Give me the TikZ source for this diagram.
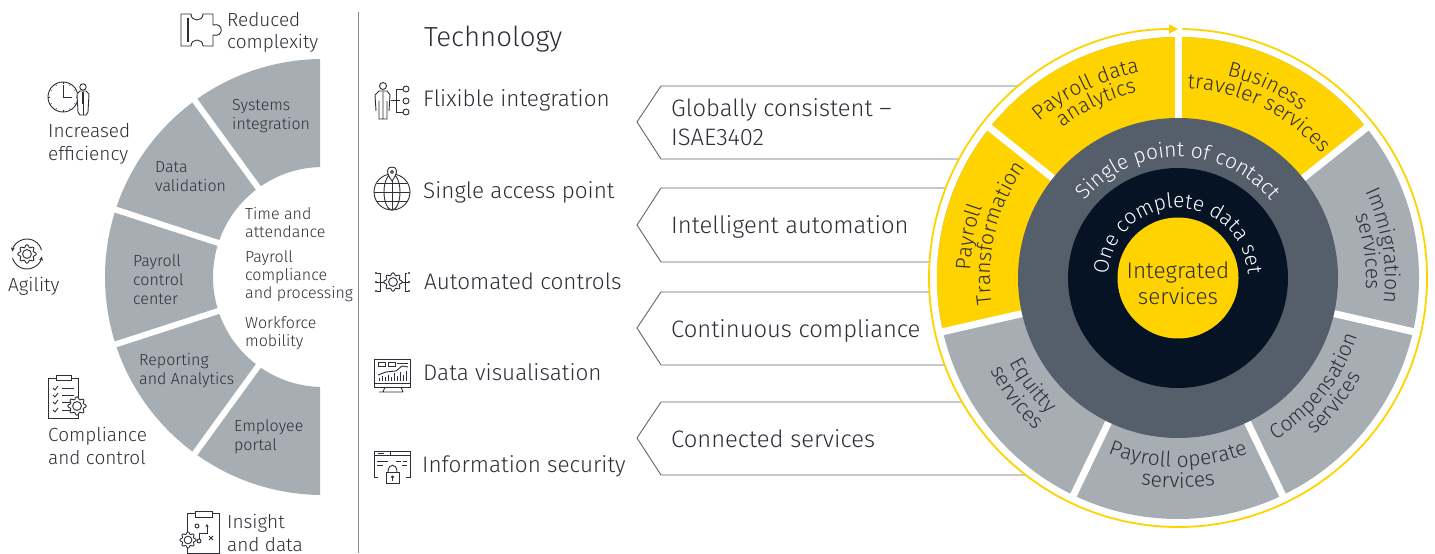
\documentclass[tikz,border=0pt]{standalone}
\usepackage{fontspec}
\setmainfont{Fira Sans}[UprightFont={* Light}]
\usetikzlibrary{decorations.text,arrows.meta,calc}
\definecolor{ink}{HTML}{2E2E38}
\definecolor{eyyellow}{HTML}{FFD300}
\definecolor{seggray}{HTML}{A7AEB3}
\definecolor{midgray}{HTML}{555F6B}
\definecolor{navy}{HTML}{061325}
\definecolor{chev}{HTML}{5B6675}
\newcommand\fsz[1]{\fontsize{#1}{#1}\selectfont}
\newcommand\wf{\fontsize{21}{24}\selectfont\color{ink}}
\newcommand\wfw{\fontsize{21}{24}\selectfont\color{white}}
\newcommand\arctxt[5]{\path[decorate,decoration={text along path,text align=center,text={|#5|#4}}] (#1:#2) arc[start angle=#1,end angle=#3,radius=#2];}
\newcommand\gearic[3]{\begin{scope}[shift={(#1,#2)}]
\draw[ic,fill=white] plot[domain=0:352.5,samples=48,smooth cycle] (\x:{#3*(1+0.16*cos(8*\x))});
\draw[ic] (0,0) circle[radius=#3*0.55];
\end{scope}}
\tikzset{
 ic/.style={draw=ink,line width=0.9pt},
 lbl/.style={inner sep=0pt,anchor=west,align=left,text=ink},
 small/.style={lbl,font=\fontsize{16}{19}\selectfont},
 smallin/.style={lbl,font=\fontsize{16}{18}\selectfont},
 side/.style={lbl,font=\fontsize{19}{22.5}\selectfont},
 tech/.style={lbl,font=\fontsize{22.5}{29}\selectfont},
 chevtxt/.style={lbl,font=\fontsize{23.8}{29}\selectfont},
 chevline/.style={draw=chev,line width=0.9pt},
}
\begin{document}
\begin{tikzpicture}[x=1pt,y=1pt]
\useasboundingbox (0,0) rectangle (1435,554);
\fill[white] (0,0) rectangle (1435,554);
% left half ring
\begin{scope}
 \clip (0,0) rectangle (320,554);
 \begin{scope}[shift={(323,277)}]
 \fill[seggray] (90:218) arc[start angle=90,end angle=270,radius=218] -- (270:110) arc[start angle=270,end angle=90,radius=110] -- cycle;
 \foreach \a in {126,162,198,234} \draw[white,line width=6pt] (\a:100) -- (\a:225);
 \end{scope}
\end{scope}
\begin{scope}[shift={(0,554)},y=-1pt]
 \draw[draw=seggray!80!black,line width=0.9pt] (358,12) -- (358,553);
 % chevrons
 \draw[chevline] (1030,86) -- (661,86) -- (637,122) -- (661,159) -- (1030,159);
 \draw[chevline] (1030,188) -- (661,188) -- (637,225) -- (661,262) -- (1030,262);
 \draw[chevline] (1030,292) -- (661,292) -- (637,328) -- (661,365) -- (1030,365);
 \draw[chevline] (1030,402) -- (661,402) -- (637,438) -- (661,475) -- (1030,475);
 % labels left
 \node[side] (reduced) at (227,32.5) {Reduced\\complexity};
 \node[side] (efficiency) at (48,144) {Increased\\efficiency};
 \node[side] (agility) at (8,286) {Agility};
 \node[side] (compliance) at (48,446) {Compliance\\and control};
 \node[side] (insight) at (227,533) {Insight\\and data};
 \node[small] (systems) at (232,116) {Systems\\integration};
 \node[small] (datav) at (155,177) {Data\\validation};
 \node[small] (pcc) at (133,280) {Payroll\\control\\center};
 \node[small] (reporting) at (139,371) {Reporting\\and Analytics};
 \node[small] (employee) at (234,437) {Employee\\portal};
 \node[smallin] (time) at (245,222.5) {Time and\\attendance};
 \node[smallin] (pcp) at (245,276.5) {Payroll\\compliance\\and processing};
 \node[smallin] (workforce) at (245,333) {Workforce\\mobility};
 % technology
 \node[lbl,font=\fsz{27.6}] (tech) at (424,39) {Technology};
 \node[tech] (t1) at (423,100) {Flixible integration};
 \node[tech] (t2) at (423,192) {Single access point};
 \node[tech] (t3) at (424,281.5) {Automated controls};
 \node[tech] (t4) at (423,372.5) {Data visualisation};
 \node[tech] (t5) at (422,466) {Information security};
 \node[chevtxt] (c1) at (671,122.5) {Globally consistent –\\ISAE3402};
 \node[chevtxt] (c2) at (671,227) {Intelligent automation};
 \node[chevtxt] (c3) at (671,331) {Continuous compliance};
 \node[chevtxt] (c4) at (671,439) {Connected services};
 % puzzle
 \draw[ic] (181,14) -- (191,14) .. controls (191,22) and (203,22) .. (203,14) -- (213,14) -- (213,25) .. controls (224,22) and (224,38) .. (213,35) -- (213,46) -- (203,46) .. controls (203,38) and (191,38) .. (191,46) -- (181,46) -- cycle;
 \draw[draw=ink,line width=1.4pt] (188,18) -- (188,42);
 % clock person
 \draw[ic] (63,97) circle[radius=15];
 \draw[ic] (63,85) -- (63,97) -- (72,97);
 \begin{scope}[shift={(63,97)}]
  \foreach \a in {0,30,...,330} \draw[draw=ink,line width=0.5pt] (\a:13) -- (\a:15);
 \end{scope}
 \draw[ic,fill=white] (78,112) -- (77,94) -- (80,91) -- (86,91) -- (89,94) -- (88,112) -- (86,115) -- (80,115) -- cycle;
 \draw[ic] (83,87) circle[radius=3.2];
 \draw[draw=ink,line width=1.2pt] (83,92) -- (83,104);
 \draw[ic] (83,104) -- (83,115);
 % agility
 \gearic{27}{254}{8}
 \begin{scope}[shift={(27,254)}]
  \draw[ic,-{Stealth[length=4pt,width=4pt]}] (345:15) arc[start angle=345,end angle=190,radius=15];
  \draw[ic,-{Stealth[length=4pt,width=4pt]}] (165:15) arc[start angle=165,end angle=10,radius=15];
 \end{scope}
 % compliance clipboard
 \draw[ic] (48,378) rectangle (78,418);
 \draw[ic,fill=white] (56,375) rectangle (71,380);
 \foreach \y in {388,395,402,410} {
  \draw[ic] (53,\y) -- (55,\y+2) -- (58,\y-2);
  \draw[ic] (62,\y) -- (74,\y);
 }
 \gearic{77}{406}{8}
 % insight clipboard
 \draw[ic] (187,513) rectangle (219,553);
 \draw[ic,fill=white] (195,511) rectangle (212,517);
 \draw[ic] (197,526) circle[radius=2];
 \draw[ic] (199,541) circle[radius=2];
 \draw[ic,-{Stealth[length=3pt,width=3pt]}] (199,539) -- (199,533) -- (207,533) -- (207,524);
 \draw[ic] (209,536) -- (213,540) (213,536) -- (209,540);
 \gearic{188}{540}{7}
 % flexible integration
 \draw[ic] (383,86) circle[radius=3.5];
 \draw[ic] (376,111) -- (375,95) -- (379,91) -- (387,91) -- (390,95) -- (389,111) (379,101) -- (379,119) -- (387,119) -- (387,101) (383,101) -- (383,119) (383,92) -- (383,102);
 \draw[ic] (391,100) -- (400,100) (396,89) -- (396,112) (396,89) -- (403,89) (396,112) -- (403,112);
 \foreach \y in {89,101,112} \draw[ic,fill=white] (406,\y) circle[radius=3];
 % globe
 \draw[ic] (392,192) circle[radius=18];
 \draw[ic] (392,192) ellipse[x radius=8,y radius=18];
 \draw[ic] (392,174) -- (392,210) (374,192) -- (410,192) (377,183) -- (407,183) (377,201) -- (407,201);
 \draw[ic,fill=white] (392,181) .. controls (386,173) and (386,167) .. (392,167) .. controls (398,167) and (398,173) .. (392,181) -- cycle;
 \draw[ic] (392,172) circle[radius=1.5];
 % automated controls
 \gearic{393}{282}{8}
 \draw[ic] (377,273) -- (380,273) -- (380,291) -- (377,291) (376,282) -- (384,282) (407,273) -- (405,273) -- (405,291) -- (408,291) (402,282) -- (409,282);
 \foreach \p in {(376,273),(376,282),(376,291),(409,273),(409,282),(409,291)} \fill[ink] \p circle[radius=1.2];
 % data visualisation
 \draw[ic] (374,359) rectangle (410,387);
 \draw[ic] (374,383) -- (410,383);
 \draw[ic] (378,362) rectangle (385,366) (388,362) rectangle (395,366) (397,363) -- (408,363);
 \draw[ic] (385,387) -- (383,392) (401,387) -- (403,392) (379,392) -- (403,392);
 \draw[ic] (378,375) -- (386,372) -- (396,371) -- (402,366) -- (408,367);
 \foreach \x/\h in {379/3,382/5,385/4,388/6,391/4,394/8,397/5,400/9,403/6,406/10} \draw[draw=ink,line width=0.7pt] (\x,381) -- (\x,381-\h);
 % information security
 \draw[ic] (378,477) -- (374,477) -- (374,451) -- (410,451) -- (410,477) -- (406,477);
 \draw[ic] (374,455) -- (410,455) (378,453) -- (384,453) (390,451) -- (390,455);
 \draw[ic] (377,461) -- (388,461) (377,465) -- (383,465) (396,461) -- (401,461) (403,461) -- (407,461) (402,465) -- (407,465);
 \draw[ic,fill=white] (386,472) rectangle (399,483);
 \draw[ic] (388,472) .. controls (388,463) and (397,463) .. (397,472);
 \fill[ink] (392.5,477) circle[radius=1.6];
 \draw[ic] (392.5,477) -- (392.5,481);
\end{scope}
% wheel
\begin{scope}[shift={(1178,276)}]
 \fill[white] (0,0) circle[radius=249];
 \draw[draw=eyyellow,line width=1.8pt,-{Triangle[length=9pt,width=9pt]}] (89:249) arc[start angle=89,end angle=-270,radius=249];
 \fill[seggray] (0,0) circle[radius=241];
 \fill[eyyellow] (0,0) -- (192.86:241) arc[start angle=192.86,end angle=38.57,radius=241] -- cycle;
 \foreach \a in {90,38.57,347.14,295.71,244.29,192.86,141.43} \draw[white,line width=7pt] (0,0) -- (\a:245);
 \node[circle,fill=midgray,minimum size=320pt,inner sep=0pt] (contact) at (0,0) {};
 \node[circle,fill=navy,minimum size=220pt,inner sep=0pt] (dataset) at (0,0) {};
 \node[circle,fill=eyyellow,minimum size=121pt,inner sep=0pt] (coredisc) at (0,0) {};
 \node[inner sep=0pt,align=center,text=ink,font=\fontsize{22.5}{26}\selectfont] (core) at (0,-5) {Integrated\\services};
 \arctxt{150}{121}{30}{Single point of contact}{\wfw}
 \arctxt{175}{70}{5}{One complete data set}{\wfw}
 \arctxt{147}{209}{85}{Payroll data}{\wf}
 \arctxt{146}{190}{84}{analytics}{\wf}
 \arctxt{97}{208}{33}{Business}{\wf}
 \arctxt{96}{190}{32}{traveler services}{\wf}
 \arctxt{44}{207}{-26}{Immigration}{\wf}
 \arctxt{43}{188}{-27}{services}{\wf}
 \arctxt{285}{189}{358}{Compensation}{\wf}
 \arctxt{285}{208}{358}{services}{\wf}
 \arctxt{235}{189}{305}{Payroll operate}{\wf}
 \arctxt{235}{210}{305}{services}{\wf}
 \arctxt{184}{188}{249}{Equitty}{\wf}
 \arctxt{184}{209}{249}{services}{\wf}
 \arctxt{205}{208}{133}{Payroll}{\wf}
 \arctxt{206}{188}{126}{Transformation}{\wf}
\end{scope}
\end{tikzpicture}
\end{document}
